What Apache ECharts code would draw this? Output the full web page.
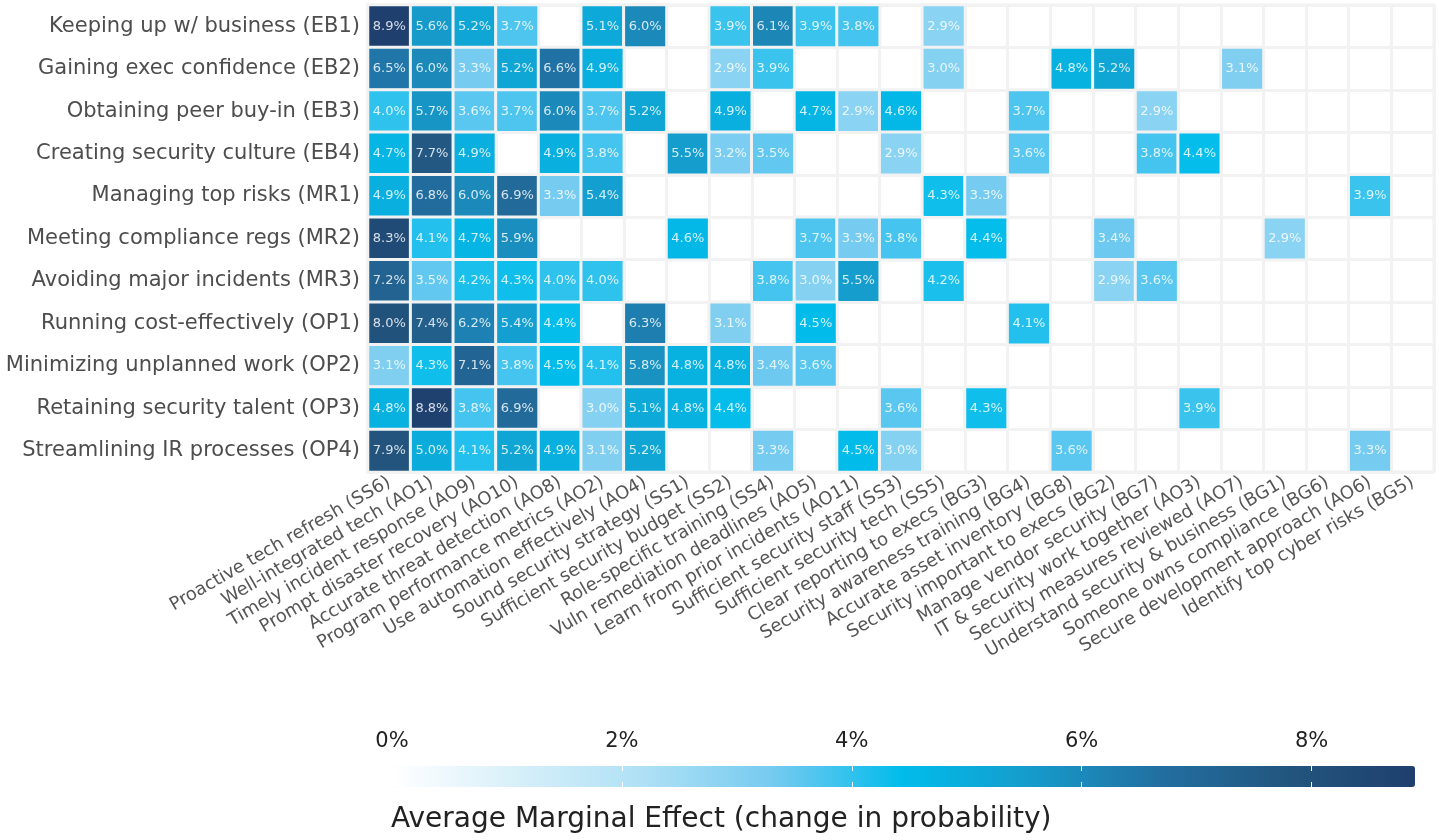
<!DOCTYPE html>
<html>
<head>
<meta charset="utf-8">
<script src="https://cdn.jsdelivr.net/npm/echarts@6/dist/echarts.min.js"></script>
<style>
html,body{margin:0;padding:0;background:#fff;}
#chart{width:1439px;height:840px;}
</style>
</head>
<body>
<div id="chart"></div>
<script>
const outcomes = [
  'Keeping up w/ business (EB1)','Gaining exec confidence (EB2)','Obtaining peer buy-in (EB3)',
  'Creating security culture (EB4)','Managing top risks (MR1)','Meeting compliance regs (MR2)',
  'Avoiding major incidents (MR3)','Running cost-effectively (OP1)','Minimizing unplanned work (OP2)',
  'Retaining security talent (OP3)','Streamlining IR processes (OP4)'
];
const practices = [
  'Proactive tech refresh (SS6)','Well-integrated tech (AO1)','Timely incident response (AO9)',
  'Prompt disaster recovery (AO10)','Accurate threat detection (AO8)','Program performance metrics (AO2)',
  'Use automation effectively (AO4)','Sound security strategy (SS1)','Sufficient security budget (SS2)',
  'Role-specific training (SS4)','Vuln remediation deadlines (AO5)','Learn from prior incidents (AO11)',
  'Sufficient security staff (SS3)','Sufficient security tech (SS5)','Clear reporting to execs (BG3)',
  'Security awareness training (BG4)','Accurate asset inventory (BG8)','Security important to execs (BG2)',
  'Manage vendor security (BG7)','IT & security work together (AO3)','Security measures reviewed (AO7)',
  'Understand security & business (BG1)','Someone owns compliance (BG6)','Secure development approach (AO6)',
  'Identify top cyber risks (BG5)'
];
const _ = null;
const EB1 = [8.9,5.6,5.2,3.7,_,5.1,6.0,_,3.9,6.1,3.9,3.8,_,2.9,_,_,_,_,_,_,_,_,_,_,_];
const EB2 = [6.5,6.0,3.3,5.2,6.6,4.9,_,_,2.9,3.9,_,_,_,3.0,_,_,4.8,5.2,_,_,3.1,_,_,_,_];
const EB3 = [4.0,5.7,3.6,3.7,6.0,3.7,5.2,_,4.9,_,4.7,2.9,4.6,_,_,3.7,_,_,2.9,_,_,_,_,_,_];
const EB4 = [4.7,7.7,4.9,_,4.9,3.8,_,5.5,3.2,3.5,_,_,2.9,_,_,3.6,_,_,3.8,4.4,_,_,_,_,_];
const MR1 = [4.9,6.8,6.0,6.9,3.3,5.4,_,_,_,_,_,_,_,4.3,3.3,_,_,_,_,_,_,_,_,3.9,_];
const MR2 = [8.3,4.1,4.7,5.9,_,_,_,4.6,_,_,3.7,3.3,3.8,_,4.4,_,_,3.4,_,_,_,2.9,_,_,_];
const MR3 = [7.2,3.5,4.2,4.3,4.0,4.0,_,_,_,3.8,3.0,5.5,_,4.2,_,_,_,2.9,3.6,_,_,_,_,_,_];
const OP1 = [8.0,7.4,6.2,5.4,4.4,_,6.3,_,3.1,_,4.5,_,_,_,_,4.1,_,_,_,_,_,_,_,_,_];
const OP2 = [3.1,4.3,7.1,3.8,4.5,4.1,5.8,4.8,4.8,3.4,3.6,_,_,_,_,_,_,_,_,_,_,_,_,_,_];
const OP3 = [4.8,8.8,3.8,6.9,_,3.0,5.1,4.8,4.4,_,_,_,3.6,_,4.3,_,_,_,_,3.9,_,_,_,_,_];
const OP4 = [7.9,5.0,4.1,5.2,4.9,3.1,5.2,_,_,3.3,_,4.5,3.0,_,_,_,3.6,_,_,_,_,_,_,3.3,_];
const rows = [EB1,EB2,EB3,EB4,MR1,MR2,MR3,OP1,OP2,OP3,OP4];
const scaleTicks = [0,2,4,6,8];
const scaleMax = 8.9;

const data = [];
rows.forEach((r, yi) => r.forEach((v, xi) => { if (v !== null) data.push([xi, yi, v]); }));

const FONT = 'DejaVu Sans';
const chart = echarts.init(document.getElementById('chart'));
chart.setOption({
  backgroundColor: '#ffffff',
  animation: false,
  title: {
    text: 'Average Marginal Effect (change in probability)',
    left: 386, top: 801,
    textStyle: {fontFamily: FONT, fontSize: 28, fontWeight: 'normal', color: '#222'}
  },
  grid: [
    {left: 368, top: 5, width: 1066, height: 467, show: true, backgroundColor: '#fff', borderColor: '#f2f2f2', borderWidth: 3},
    {left: 392, top: 766, width: 1023, height: 21, show: false}
  ],
  xAxis: [
    {
      type: 'category', data: practices, gridIndex: 0,
      axisLine: {show: false}, axisTick: {show: false},
      splitLine: {show: true, interval: 0, lineStyle: {color: '#f2f2f2', width: 3}},
      axisLabel: {interval: 0, rotate: 30, margin: 9, fontFamily: FONT, fontSize: 18, color: '#555'}
    },
    {
      type: 'value', gridIndex: 1, min: 0, max: scaleMax, interval: 2, position: 'top', z: 10,
      axisLine: {show: false}, axisTick: {show: false},
      splitLine: {show: true, lineStyle: {color: '#ffffff', width: 1, type: [5, 11]}},
      axisLabel: {margin: 14, showMaxLabel: false, fontFamily: FONT, fontSize: 21, color: '#222',
        formatter: v => scaleTicks.indexOf(v) >= 0 ? v + '%' : ''}
    }
  ],
  yAxis: [
    {
      type: 'category', data: outcomes, inverse: true, gridIndex: 0,
      axisLine: {show: false}, axisTick: {show: false},
      splitLine: {show: true, interval: 0, lineStyle: {color: '#f2f2f2', width: 3}},
      axisLabel: {margin: 8, fontFamily: FONT, fontSize: 21, color: '#4d4d4d'}
    },
    {type: 'category', data: [''], gridIndex: 1, show: false}
  ],
  visualMap: {
    type: 'continuous', min: 0, max: scaleMax, seriesIndex: 0,
    orient: 'horizontal', left: 392, top: 766, itemWidth: 21, itemHeight: 1023,
    padding: 0, calculable: false, showLabel: false, text: null,
    inRange: {color: ['#ffffff','#d6eff9','#ade0f5','#74caf0','#00bceb','#169bcb','#226fa1','#22567f','#1f3f6e']}
  },
  series: [{
    type: 'heatmap', xAxisIndex: 0, yAxisIndex: 0, data: data,
    itemStyle: {borderColor: '#f2f2f2', borderWidth: 3},
    label: {show: true, fontFamily: FONT, fontSize: 13, color: 'rgba(255,255,255,0.82)',
      formatter: p => p.value[2].toFixed(1) + '%'},
    emphasis: {disabled: true}
  }]
});
</script>
</body>
</html>
